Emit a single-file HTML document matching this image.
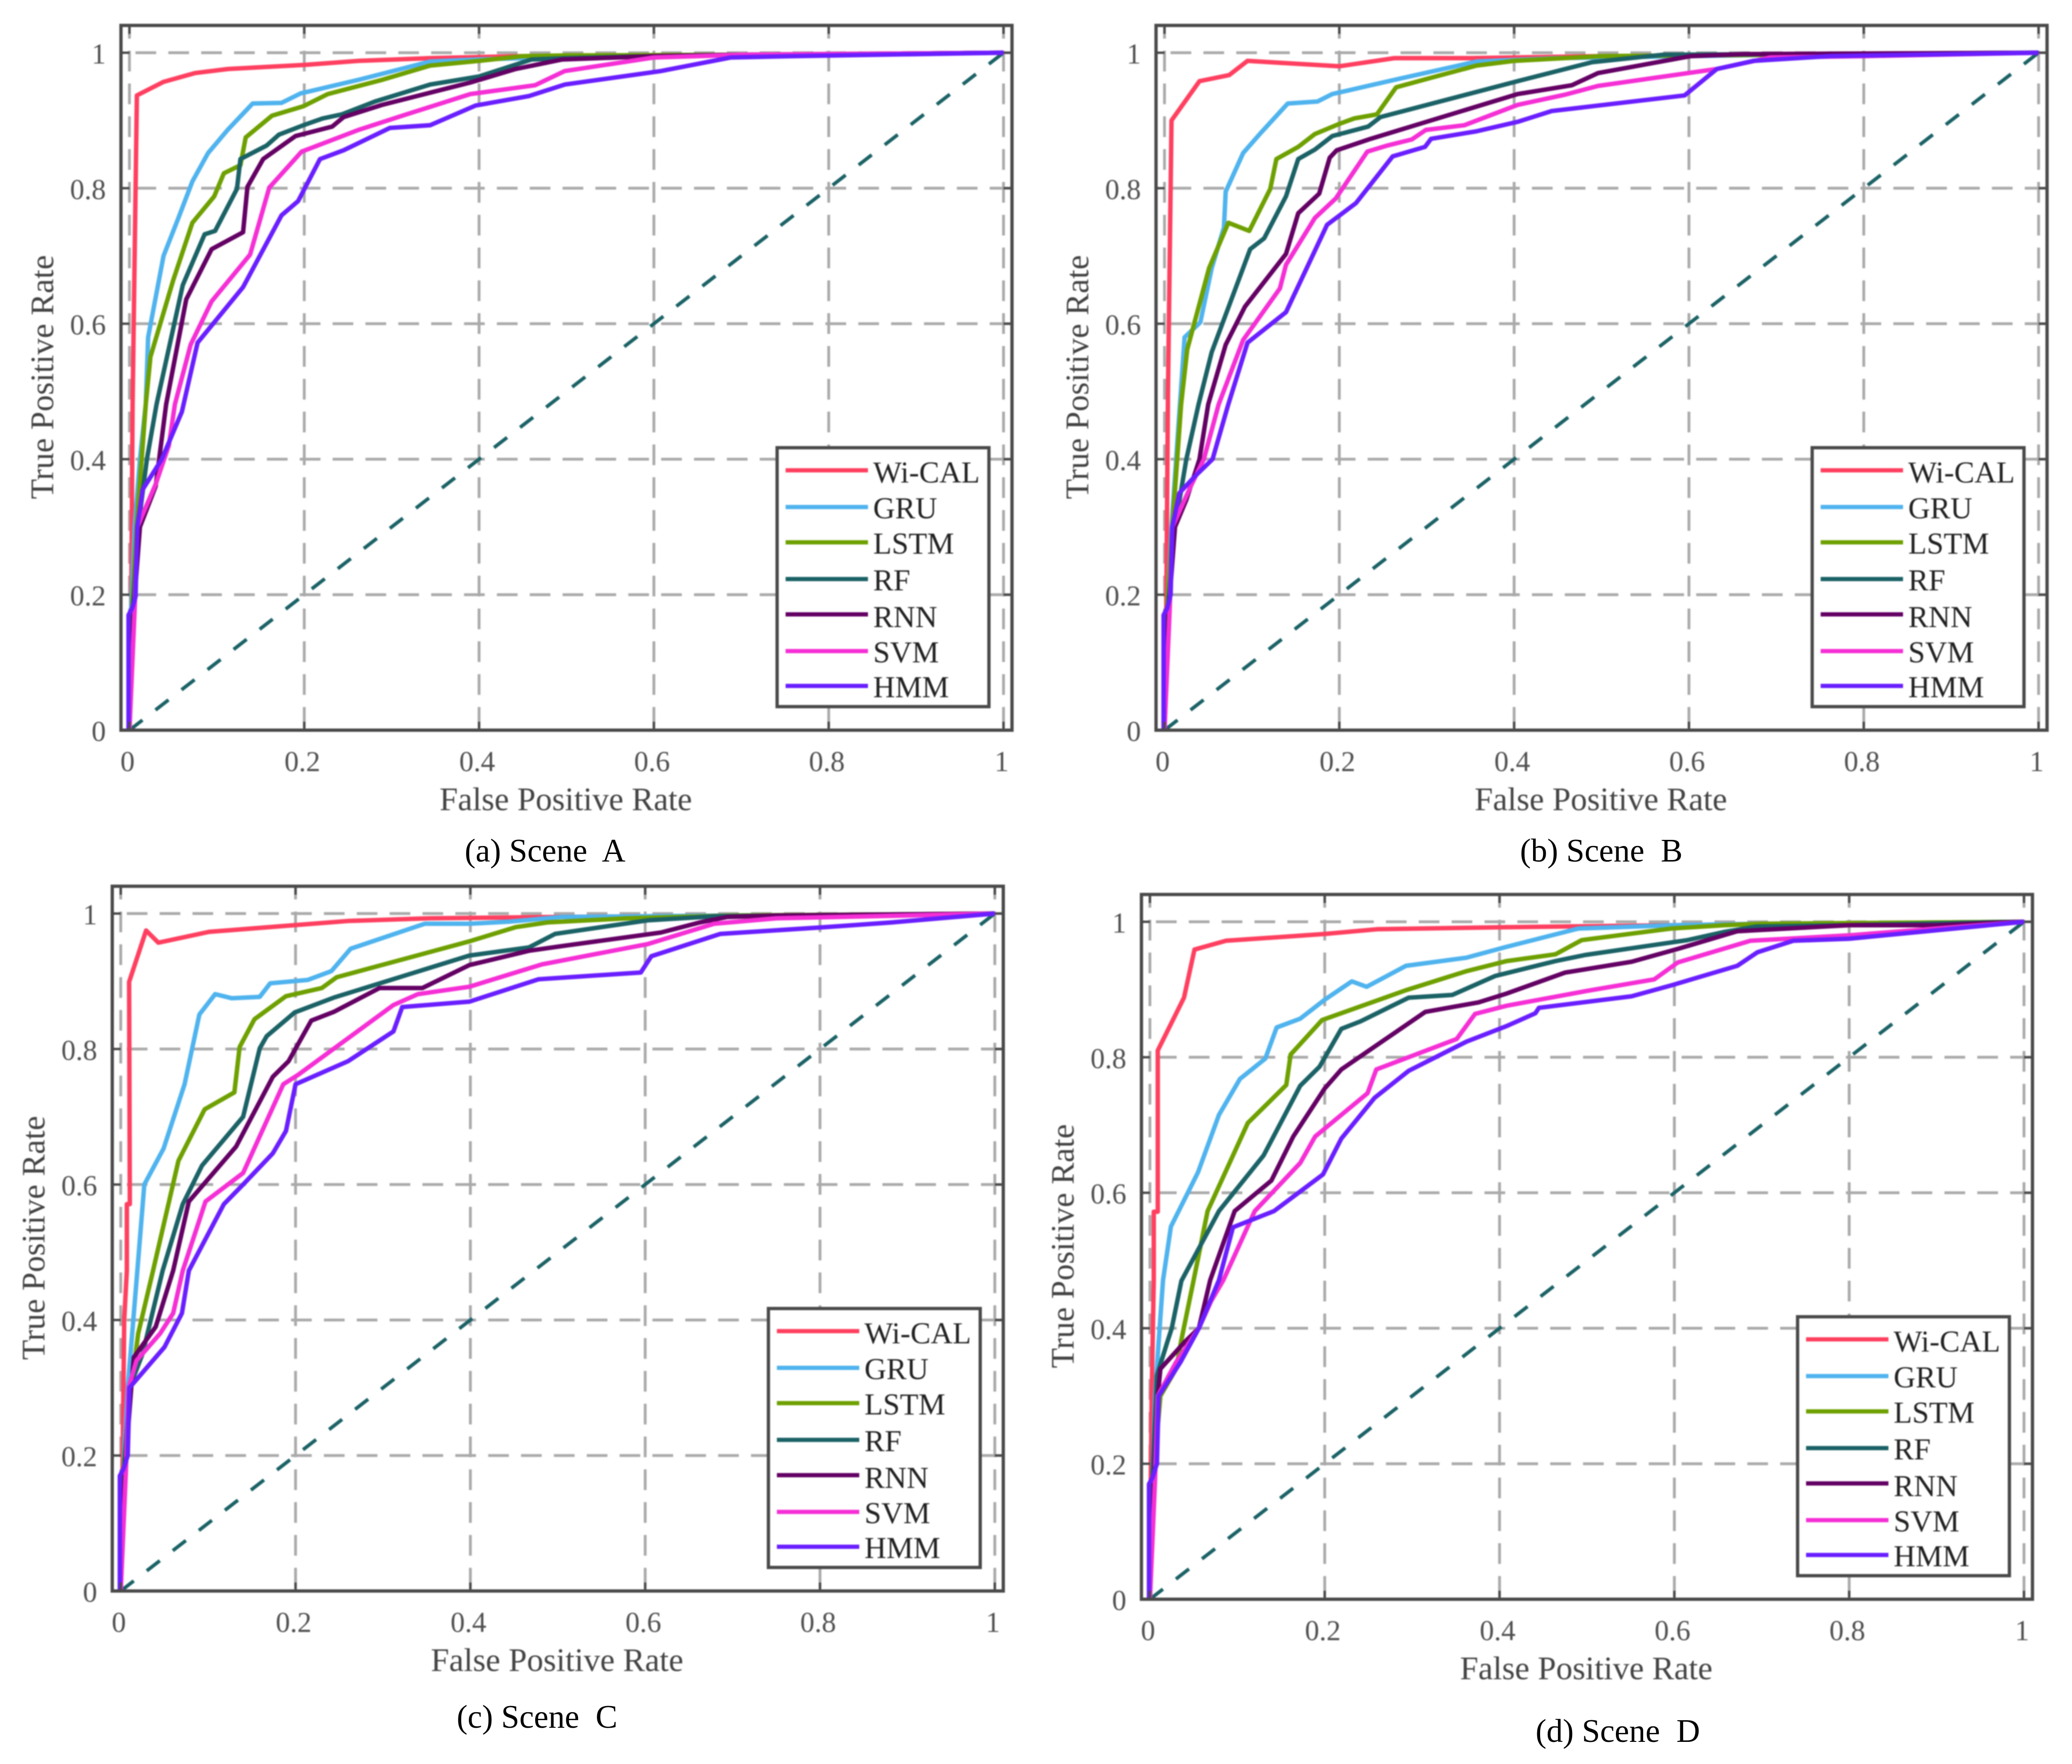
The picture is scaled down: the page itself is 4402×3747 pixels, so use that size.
<!DOCTYPE html>
<html lang="en">
<head>
<meta charset="utf-8">
<title>ROC curves for Scenes A to D</title>
<style>
html,body{margin:0;padding:0;background:#fff;}
svg{display:block;}
text{font-family:"Liberation Serif",serif;}
.axis-title{font-size:70px;fill:#444;}
.caption{font-size:69.5px;fill:#000;white-space:pre;}
.tick-label{font-size:61px;fill:#505050;}
.legend-text{font-size:64.5px;fill:#222;}
.frame{fill:none;stroke:#4a4a4a;stroke-width:7;}
.legend-box{fill:#fff;stroke:#4a4a4a;stroke-width:7;}
.lg{stroke-width:9;fill:none;}
</style>
</head>
<body>
<svg id="figure" xmlns="http://www.w3.org/2000/svg" width="4402" height="3747" viewBox="0 0 4402 3747">
<defs>
  <filter id="soft" x="-5%" y="-5%" width="110%" height="110%" color-interpolation-filters="sRGB"><feGaussianBlur stdDeviation="1.3"/></filter>
</defs>
<rect width="4402" height="3747" fill="#fff"/>

<g id="panel-a" filter="url(#soft)" transform="translate(0,0)">
  <g class="plot"></g>
  <rect class="frame" x="257" y="54" width="1893" height="1497"/>
  <text class="axis-title" x="1202" y="1721" text-anchor="middle">False Positive Rate</text>
  <text class="axis-title" transform="translate(113,801) rotate(-90)" text-anchor="middle">True Positive Rate</text>
  <g>
    <rect class="legend-box" x="1651" y="951" width="450" height="550"/>
    <line class="lg" x1="1669" x2="1844" y1="999" y2="999" stroke="#ff4060"/><text class="legend-text" x="1855" y="1025">Wi-CAL</text>
    <line class="lg" x1="1669" x2="1844" y1="1077" y2="1077" stroke="#4fb3ee"/><text class="legend-text" x="1855" y="1101">GRU</text>
    <line class="lg" x1="1669" x2="1844" y1="1152" y2="1152" stroke="#6ea000"/><text class="legend-text" x="1855" y="1176">LSTM</text>
    <line class="lg" x1="1669" x2="1844" y1="1230" y2="1230" stroke="#1b6266"/><text class="legend-text" x="1855" y="1254">RF</text>
    <line class="lg" x1="1669" x2="1844" y1="1305" y2="1305" stroke="#640064"/><text class="legend-text" x="1855" y="1332">RNN</text>
    <line class="lg" x1="1669" x2="1844" y1="1383" y2="1383" stroke="#f52fd5"/><text class="legend-text" x="1855" y="1407">SVM</text>
    <line class="lg" x1="1669" x2="1844" y1="1457" y2="1457" stroke="#6a1fff"/><text class="legend-text" x="1855" y="1481">HMM</text>
  </g>
</g>

<g id="panel-b" filter="url(#soft)" transform="translate(2199,0)">
  <g class="plot"></g>
  <rect class="frame" x="257" y="54" width="1893" height="1497"/>
  <text class="axis-title" x="1202" y="1721" text-anchor="middle">False Positive Rate</text>
  <text class="axis-title" transform="translate(113,801) rotate(-90)" text-anchor="middle">True Positive Rate</text>
  <g>
    <rect class="legend-box" x="1651" y="951" width="450" height="550"/>
    <line class="lg" x1="1669" x2="1844" y1="999" y2="999" stroke="#ff4060"/><text class="legend-text" x="1855" y="1025">Wi-CAL</text>
    <line class="lg" x1="1669" x2="1844" y1="1077" y2="1077" stroke="#4fb3ee"/><text class="legend-text" x="1855" y="1101">GRU</text>
    <line class="lg" x1="1669" x2="1844" y1="1152" y2="1152" stroke="#6ea000"/><text class="legend-text" x="1855" y="1176">LSTM</text>
    <line class="lg" x1="1669" x2="1844" y1="1230" y2="1230" stroke="#1b6266"/><text class="legend-text" x="1855" y="1254">RF</text>
    <line class="lg" x1="1669" x2="1844" y1="1305" y2="1305" stroke="#640064"/><text class="legend-text" x="1855" y="1332">RNN</text>
    <line class="lg" x1="1669" x2="1844" y1="1383" y2="1383" stroke="#f52fd5"/><text class="legend-text" x="1855" y="1407">SVM</text>
    <line class="lg" x1="1669" x2="1844" y1="1457" y2="1457" stroke="#6a1fff"/><text class="legend-text" x="1855" y="1481">HMM</text>
  </g>
</g>

<g id="panel-c" filter="url(#soft)" transform="translate(-18.5,1828.5)">
  <g class="plot"></g>
  <rect class="frame" x="257" y="54" width="1893" height="1497"/>
  <text class="axis-title" x="1202" y="1721" text-anchor="middle">False Positive Rate</text>
  <text class="axis-title" transform="translate(113,801) rotate(-90)" text-anchor="middle">True Positive Rate</text>
  <g>
    <rect class="legend-box" x="1651" y="951" width="450" height="550"/>
    <line class="lg" x1="1669" x2="1844" y1="999" y2="999" stroke="#ff4060"/><text class="legend-text" x="1855" y="1025">Wi-CAL</text>
    <line class="lg" x1="1669" x2="1844" y1="1077" y2="1077" stroke="#4fb3ee"/><text class="legend-text" x="1855" y="1101">GRU</text>
    <line class="lg" x1="1669" x2="1844" y1="1152" y2="1152" stroke="#6ea000"/><text class="legend-text" x="1855" y="1176">LSTM</text>
    <line class="lg" x1="1669" x2="1844" y1="1230" y2="1230" stroke="#1b6266"/><text class="legend-text" x="1855" y="1254">RF</text>
    <line class="lg" x1="1669" x2="1844" y1="1305" y2="1305" stroke="#640064"/><text class="legend-text" x="1855" y="1332">RNN</text>
    <line class="lg" x1="1669" x2="1844" y1="1383" y2="1383" stroke="#f52fd5"/><text class="legend-text" x="1855" y="1407">SVM</text>
    <line class="lg" x1="1669" x2="1844" y1="1457" y2="1457" stroke="#6a1fff"/><text class="legend-text" x="1855" y="1481">HMM</text>
  </g>
</g>

<g id="panel-d" filter="url(#soft)" transform="translate(2168,1846)">
  <g class="plot"></g>
  <rect class="frame" x="257" y="54" width="1893" height="1497"/>
  <text class="axis-title" x="1202" y="1721" text-anchor="middle">False Positive Rate</text>
  <text class="axis-title" transform="translate(113,801) rotate(-90)" text-anchor="middle">True Positive Rate</text>
  <g>
    <rect class="legend-box" x="1651" y="951" width="450" height="550"/>
    <line class="lg" x1="1669" x2="1844" y1="999" y2="999" stroke="#ff4060"/><text class="legend-text" x="1855" y="1025">Wi-CAL</text>
    <line class="lg" x1="1669" x2="1844" y1="1077" y2="1077" stroke="#4fb3ee"/><text class="legend-text" x="1855" y="1101">GRU</text>
    <line class="lg" x1="1669" x2="1844" y1="1152" y2="1152" stroke="#6ea000"/><text class="legend-text" x="1855" y="1176">LSTM</text>
    <line class="lg" x1="1669" x2="1844" y1="1230" y2="1230" stroke="#1b6266"/><text class="legend-text" x="1855" y="1254">RF</text>
    <line class="lg" x1="1669" x2="1844" y1="1305" y2="1305" stroke="#640064"/><text class="legend-text" x="1855" y="1332">RNN</text>
    <line class="lg" x1="1669" x2="1844" y1="1383" y2="1383" stroke="#f52fd5"/><text class="legend-text" x="1855" y="1407">SVM</text>
    <line class="lg" x1="1669" x2="1844" y1="1457" y2="1457" stroke="#6a1fff"/><text class="legend-text" x="1855" y="1481">HMM</text>
  </g>
</g>

<g>
  <text class="caption" x="1158" y="1830" text-anchor="middle">(a) Scene  A</text>
  <text class="caption" x="3402" y="1830" text-anchor="middle">(b) Scene  B</text>
  <text class="caption" x="1141" y="3670" text-anchor="middle">(c) Scene  C</text>
  <text class="caption" x="3437" y="3700" text-anchor="middle">(d) Scene  D</text>
</g>
</svg>

<script>
// Tick values and labels
const xTickValues = [0, 0.2, 0.4, 0.6, 0.8, 1];
const xTickLabels = ["0", "0.2", "0.4", "0.6", "0.8", "1"];
const yTickValues = [0, 0.2, 0.4, 0.6, 0.8, 1];
const yTickLabels = ["0", "0.2", "0.4", "0.6", "0.8", "1"];
const chanceLine = [[0, 0], [1, 1]];

// Series names
const seriesNames = ["wi-cal", "gru", "lstm", "rf", "rnn", "svm", "hmm"];

// Scene A: [false positive rate, true positive rate]
const sceneAWiCal = [[0,0],[0.002,0.18],[0.0036,0.48],[0.0085,0.937],[0.039,0.957],[0.075,0.97],[0.113,0.976],[0.2,0.982],[0.262,0.988],[0.344,0.992],[0.45,0.995],[0.7,0.997],[1,1]];
const sceneAGru = [[0,0],[0.002,0.18],[0.006,0.3],[0.012,0.4],[0.0187,0.481],[0.0214,0.58],[0.039,0.7],[0.056,0.756],[0.072,0.81],[0.09,0.852],[0.113,0.887],[0.141,0.925],[0.174,0.926],[0.196,0.94],[0.262,0.96],[0.344,0.987],[0.4,0.99],[0.5,0.994],[0.7,0.997],[1,1]];
const sceneALstm = [[0,0],[0.003,0.18],[0.008,0.3],[0.014,0.4],[0.0187,0.481],[0.024,0.551],[0.05,0.664],[0.072,0.749],[0.097,0.788],[0.108,0.822],[0.127,0.834],[0.133,0.875],[0.163,0.907],[0.199,0.921],[0.227,0.939],[0.289,0.96],[0.344,0.981],[0.4,0.988],[0.45,0.995],[0.5,0.996],[0.7,0.997],[1,1]];
const sceneARf = [[0,0],[0.004,0.18],[0.01,0.3],[0.02,0.4],[0.031,0.481],[0.061,0.657],[0.086,0.732],[0.098,0.737],[0.123,0.799],[0.127,0.843],[0.157,0.863],[0.171,0.879],[0.199,0.893],[0.221,0.903],[0.243,0.909],[0.281,0.928],[0.344,0.953],[0.4,0.965],[0.46,0.99],[0.5,0.992],[0.6,0.995],[0.7,0.997],[1,1]];
const sceneARnn = [[0,0],[0.005,0.18],[0.012,0.3],[0.03,0.36],[0.042,0.481],[0.065,0.636],[0.094,0.71],[0.13,0.735],[0.135,0.802],[0.153,0.843],[0.19,0.877],[0.232,0.891],[0.245,0.905],[0.289,0.923],[0.344,0.941],[0.39,0.956],[0.442,0.976],[0.495,0.99],[0.6,0.995],[0.7,0.997],[1,1]];
const sceneASvm = [[0,0],[0.006,0.18],[0.009,0.3],[0.03,0.363],[0.045,0.42],[0.052,0.481],[0.07,0.569],[0.094,0.633],[0.138,0.702],[0.16,0.801],[0.197,0.854],[0.262,0.886],[0.317,0.909],[0.39,0.939],[0.464,0.952],[0.498,0.973],[0.6,0.993],[0.7,0.997],[1,1]];
const sceneAHmm = [[-0.001,0],[-0.001,0.17],[0.003,0.18],[0.007,0.197],[0.009,0.3],[0.015,0.355],[0.037,0.4],[0.06,0.47],[0.078,0.572],[0.13,0.654],[0.174,0.76],[0.193,0.781],[0.218,0.843],[0.245,0.856],[0.298,0.889],[0.344,0.893],[0.396,0.922],[0.457,0.936],[0.498,0.953],[0.608,0.973],[0.688,0.993],[0.76,0.995],[1,1]];

// Scene B
const sceneBWiCal = [[0,0],[0.002,0.18],[0.004,0.5],[0.008,0.9],[0.04,0.958],[0.074,0.967],[0.095,0.988],[0.2,0.98],[0.263,0.992],[0.35,0.992],[0.5,0.995],[0.7,0.997],[1,1]];
const sceneBGru = [[0,0],[0.003,0.18],[0.008,0.3],[0.016,0.45],[0.023,0.58],[0.041,0.602],[0.054,0.682],[0.068,0.742],[0.07,0.795],[0.09,0.852],[0.109,0.88],[0.141,0.925],[0.175,0.928],[0.192,0.939],[0.263,0.96],[0.357,0.987],[0.45,0.992],[0.7,0.997],[1,1]];
const sceneBLstm = [[0,0],[0.003,0.18],[0.009,0.3],[0.019,0.481],[0.026,0.562],[0.051,0.682],[0.073,0.749],[0.097,0.737],[0.121,0.799],[0.128,0.843],[0.153,0.861],[0.172,0.88],[0.2,0.895],[0.217,0.903],[0.243,0.909],[0.265,0.949],[0.302,0.962],[0.357,0.981],[0.4,0.988],[0.5,0.995],[0.7,0.997],[1,1]];
const sceneBRf = [[0,0],[0.004,0.18],[0.012,0.3],[0.025,0.4],[0.039,0.481],[0.054,0.558],[0.098,0.71],[0.114,0.726],[0.139,0.788],[0.153,0.843],[0.172,0.857],[0.192,0.877],[0.233,0.891],[0.247,0.905],[0.404,0.958],[0.489,0.986],[0.57,0.997],[1,1]];
const sceneBRnn = [[0,0],[0.005,0.18],[0.012,0.3],[0.025,0.34],[0.04,0.4],[0.05,0.481],[0.07,0.569],[0.092,0.625],[0.139,0.703],[0.153,0.763],[0.177,0.792],[0.189,0.845],[0.197,0.856],[0.236,0.873],[0.404,0.939],[0.466,0.952],[0.496,0.97],[0.602,0.995],[0.663,0.998],[1,1]];
const sceneBSvm = [[0,0],[0.006,0.18],[0.009,0.3],[0.03,0.36],[0.045,0.4],[0.062,0.481],[0.09,0.576],[0.132,0.652],[0.139,0.687],[0.172,0.756],[0.196,0.785],[0.232,0.854],[0.255,0.863],[0.283,0.872],[0.299,0.886],[0.343,0.893],[0.404,0.923],[0.458,0.938],[0.496,0.951],[0.632,0.976],[0.693,0.993],[0.8,0.995],[1,1]];
const sceneBHmm = [[-0.001,0],[-0.001,0.17],[0.003,0.18],[0.007,0.2],[0.009,0.3],[0.017,0.35],[0.035,0.375],[0.055,0.4],[0.073,0.481],[0.095,0.572],[0.139,0.617],[0.186,0.746],[0.219,0.778],[0.261,0.847],[0.298,0.861],[0.305,0.873],[0.357,0.884],[0.404,0.898],[0.443,0.914],[0.595,0.937],[0.632,0.976],[0.674,0.988],[0.761,0.995],[1,1]];

// Scene C
const sceneCWiCal = [[0,0],[0.002,0.18],[0.004,0.4],[0.007,0.473],[0.007,0.571],[0.0104,0.571],[0.0096,0.899],[0.029,0.975],[0.043,0.957],[0.101,0.973],[0.2,0.983],[0.26,0.989],[0.353,0.993],[0.5,0.995],[1,1]];
const sceneCGru = [[0,0],[0.003,0.18],[0.008,0.3],[0.019,0.473],[0.027,0.6],[0.049,0.653],[0.073,0.748],[0.09,0.851],[0.108,0.881],[0.127,0.875],[0.159,0.877],[0.171,0.897],[0.214,0.902],[0.241,0.915],[0.263,0.948],[0.348,0.985],[0.4,0.985],[0.444,0.988],[0.505,0.995],[0.7,0.997],[1,1]];
const sceneCLstm = [[0,0],[0.003,0.18],[0.012,0.3],[0.02,0.38],[0.037,0.473],[0.066,0.635],[0.096,0.711],[0.13,0.736],[0.136,0.803],[0.153,0.844],[0.189,0.878],[0.23,0.89],[0.247,0.906],[0.399,0.959],[0.452,0.98],[0.489,0.987],[0.58,0.993],[0.7,0.997],[1,1]];
const sceneCRf = [[0,0],[0.004,0.18],[0.01,0.3],[0.025,0.35],[0.048,0.473],[0.071,0.571],[0.093,0.628],[0.14,0.7],[0.159,0.801],[0.167,0.819],[0.199,0.854],[0.244,0.876],[0.399,0.938],[0.467,0.95],[0.497,0.97],[0.603,0.99],[0.68,0.996],[1,1]];
const sceneCRnn = [[0,0],[0.005,0.18],[0.012,0.3],[0.015,0.345],[0.04,0.39],[0.06,0.473],[0.078,0.575],[0.132,0.656],[0.174,0.759],[0.192,0.782],[0.218,0.842],[0.244,0.855],[0.296,0.89],[0.345,0.89],[0.399,0.924],[0.467,0.945],[0.505,0.952],[0.618,0.972],[0.663,0.987],[0.694,0.995],[0.75,0.997],[1,1]];
const sceneCSvm = [[0,0],[0.006,0.18],[0.009,0.3],[0.018,0.34],[0.045,0.38],[0.06,0.41],[0.071,0.473],[0.097,0.575],[0.14,0.617],[0.186,0.748],[0.203,0.762],[0.312,0.865],[0.34,0.881],[0.399,0.892],[0.482,0.925],[0.603,0.955],[0.679,0.985],[0.75,0.993],[1,1]];
const sceneCHmm = [[-0.001,0],[-0.001,0.17],[0.003,0.18],[0.008,0.2],[0.01,0.3],[0.03,0.33],[0.05,0.36],[0.07,0.41],[0.078,0.473],[0.118,0.571],[0.14,0.6],[0.174,0.646],[0.189,0.679],[0.2,0.748],[0.26,0.782],[0.312,0.826],[0.322,0.862],[0.399,0.87],[0.478,0.903],[0.595,0.913],[0.607,0.937],[0.686,0.97],[0.807,0.98],[0.883,0.987],[1,1]];

// Scene D
const sceneDWiCal = [[0,0],[0.001,0.18],[0.002,0.3],[0.0044,0.471],[0.0044,0.572],[0.009,0.572],[0.009,0.81],[0.039,0.888],[0.051,0.959],[0.087,0.972],[0.2,0.982],[0.26,0.989],[0.408,0.992],[0.6,0.995],[0.7,0.997],[1,1]];
const sceneDGru = [[0,0],[0.003,0.18],[0.006,0.3],[0.01,0.38],[0.015,0.471],[0.024,0.55],[0.055,0.63],[0.079,0.715],[0.103,0.768],[0.132,0.798],[0.145,0.844],[0.172,0.857],[0.2,0.885],[0.231,0.912],[0.248,0.904],[0.293,0.935],[0.362,0.947],[0.408,0.963],[0.49,0.99],[0.6,0.995],[0.7,0.997],[1,1]];
const sceneDLstm = [[0,0],[0.004,0.18],[0.012,0.3],[0.03,0.34],[0.036,0.383],[0.05,0.471],[0.066,0.573],[0.112,0.703],[0.156,0.759],[0.161,0.804],[0.197,0.855],[0.293,0.899],[0.362,0.927],[0.408,0.942],[0.464,0.952],[0.494,0.973],[0.596,0.99],[0.657,0.995],[0.7,0.997],[1,1]];
const sceneDRf = [[0,0],[0.003,0.18],[0.008,0.33],[0.02,0.38],[0.025,0.4],[0.036,0.47],[0.079,0.573],[0.13,0.655],[0.172,0.758],[0.194,0.786],[0.219,0.842],[0.241,0.853],[0.296,0.888],[0.346,0.892],[0.395,0.92],[0.464,0.942],[0.498,0.951],[0.615,0.973],[0.657,0.985],[0.694,0.993],[0.8,0.995],[1,1]];
const sceneDRnn = [[0,0],[0.005,0.18],[0.009,0.3],[0.012,0.34],[0.04,0.38],[0.056,0.4],[0.069,0.471],[0.097,0.573],[0.139,0.618],[0.164,0.683],[0.2,0.754],[0.219,0.782],[0.315,0.867],[0.376,0.881],[0.408,0.894],[0.475,0.925],[0.551,0.941],[0.604,0.96],[0.672,0.986],[0.8,0.995],[0.9,0.995],[1,1]];
const sceneDSvm = [[0,0],[0.006,0.18],[0.009,0.3],[0.03,0.35],[0.056,0.4],[0.07,0.44],[0.084,0.471],[0.12,0.573],[0.172,0.644],[0.189,0.683],[0.249,0.747],[0.259,0.782],[0.351,0.827],[0.372,0.864],[0.408,0.876],[0.5,0.898],[0.577,0.915],[0.604,0.94],[0.687,0.972],[0.8,0.98],[1,1]];
const sceneDHmm = [[-0.001,0],[-0.001,0.17],[0.003,0.18],[0.008,0.2],[0.01,0.3],[0.035,0.35],[0.056,0.4],[0.079,0.471],[0.095,0.549],[0.142,0.573],[0.198,0.627],[0.219,0.68],[0.257,0.74],[0.296,0.78],[0.362,0.823],[0.408,0.846],[0.441,0.865],[0.445,0.873],[0.551,0.89],[0.596,0.906],[0.672,0.935],[0.695,0.955],[0.736,0.972],[0.8,0.975],[1,1]];

// Axis geometry and styling
const SVG_NS = "http://www.w3.org/2000/svg";
const AXIS = { left: 257, right: 2150, top: 54, bottom: 1551, x0: 275, xSpan: 1857, y1: 112, ySpan: 1439 };
const seriesColors = { "wi-cal": "#ff4060", "gru": "#4fb3ee", "lstm": "#6ea000", "rf": "#1b6266", "rnn": "#640064", "svm": "#f52fd5", "hmm": "#6a1fff" };

function xScale(v) { return AXIS.x0 + v * AXIS.xSpan; }
function yScale(v) { return AXIS.y1 + (1 - v) * AXIS.ySpan; }

function make(tag, attrs, parent) {
  const el = document.createElementNS(SVG_NS, tag);
  for (const k in attrs) el.setAttribute(k, attrs[k]);
  parent.appendChild(el);
  return el;
}

function drawPanel(panelId, suffix, seriesList) {
  const panel = document.getElementById(panelId);
  const plot = panel.querySelector(".plot");
  const gridAttrs = { stroke: "#aaaaaa", "stroke-width": 6 };

  // Grid lines
  xTickValues.forEach(function (v, i) {
    const el = make("line", Object.assign({ x1: xScale(v), x2: xScale(v), y1: AXIS.top, y2: AXIS.bottom, "stroke-dasharray": "44 25.7", "stroke-dashoffset": 16 }, gridAttrs), plot);
    
    
  });
  yTickValues.forEach(function (v, i) {
    if (v === 0) return;
    const el = make("line", Object.assign({ x1: AXIS.left, x2: AXIS.right, y1: yScale(v), y2: yScale(v), "stroke-dasharray": "44 25.8", "stroke-dashoffset": 39 }, gridAttrs), plot);
    
    
  });

  // Chance diagonal
  const diagonal = make("line", {
    x1: xScale(chanceLine[0][0]), y1: yScale(chanceLine[0][1]),
    x2: xScale(chanceLine[1][0]), y2: yScale(chanceLine[1][1]),
    stroke: "#1b6266", "stroke-width": 7.5, "stroke-dasharray": "35 35"
  }, plot);
  
  

  // Series curves
  seriesNames.forEach(function (name, i) {
    const d = seriesList[i].map(function (p, j) {
      return (j ? "L" : "M") + xScale(p[0]).toFixed(1) + " " + yScale(p[1]).toFixed(1);
    }).join(" ");
    const el = make("path", { d: d, fill: "none", stroke: seriesColors[name], "stroke-width": 9.5, "stroke-linejoin": "round" }, plot);
    
    
  });

  // Tick marks on all four sides
  const tickLength = 18;
  const tickAttrs = { stroke: "#4a4a4a", "stroke-width": 5 };
  xTickValues.forEach(function (v, i) {
    const bottomTick = make("line", Object.assign({ x1: xScale(v), x2: xScale(v), y1: AXIS.bottom, y2: AXIS.bottom - tickLength }, tickAttrs), panel);
    
    
    const topTick = make("line", Object.assign({ x1: xScale(v), x2: xScale(v), y1: AXIS.top, y2: AXIS.top + tickLength }, tickAttrs), panel);
    
    
    const label = make("text", { x: xScale(v) - 4, y: AXIS.bottom + 87, "text-anchor": "middle", "class": "tick-label" }, panel);
    label.textContent = xTickLabels[i];
    
    
  });
  yTickValues.forEach(function (v, i) {
    const leftTick = make("line", Object.assign({ x1: AXIS.left, x2: AXIS.left + tickLength, y1: yScale(v), y2: yScale(v) }, tickAttrs), panel);
    
    
    const rightTick = make("line", Object.assign({ x1: AXIS.right, x2: AXIS.right - tickLength, y1: yScale(v), y2: yScale(v) }, tickAttrs), panel);
    
    
    const label = make("text", { x: 225, y: yScale(v) + 23, "text-anchor": "end", "class": "tick-label" }, panel);
    label.textContent = yTickLabels[i];
    
    
  });
}

drawPanel("panel-a", "a", [sceneAWiCal, sceneAGru, sceneALstm, sceneARf, sceneARnn, sceneASvm, sceneAHmm]);
drawPanel("panel-b", "b", [sceneBWiCal, sceneBGru, sceneBLstm, sceneBRf, sceneBRnn, sceneBSvm, sceneBHmm]);
drawPanel("panel-c", "c", [sceneCWiCal, sceneCGru, sceneCLstm, sceneCRf, sceneCRnn, sceneCSvm, sceneCHmm]);
drawPanel("panel-d", "d", [sceneDWiCal, sceneDGru, sceneDLstm, sceneDRf, sceneDRnn, sceneDSvm, sceneDHmm]);
</script>
</body>
</html>
